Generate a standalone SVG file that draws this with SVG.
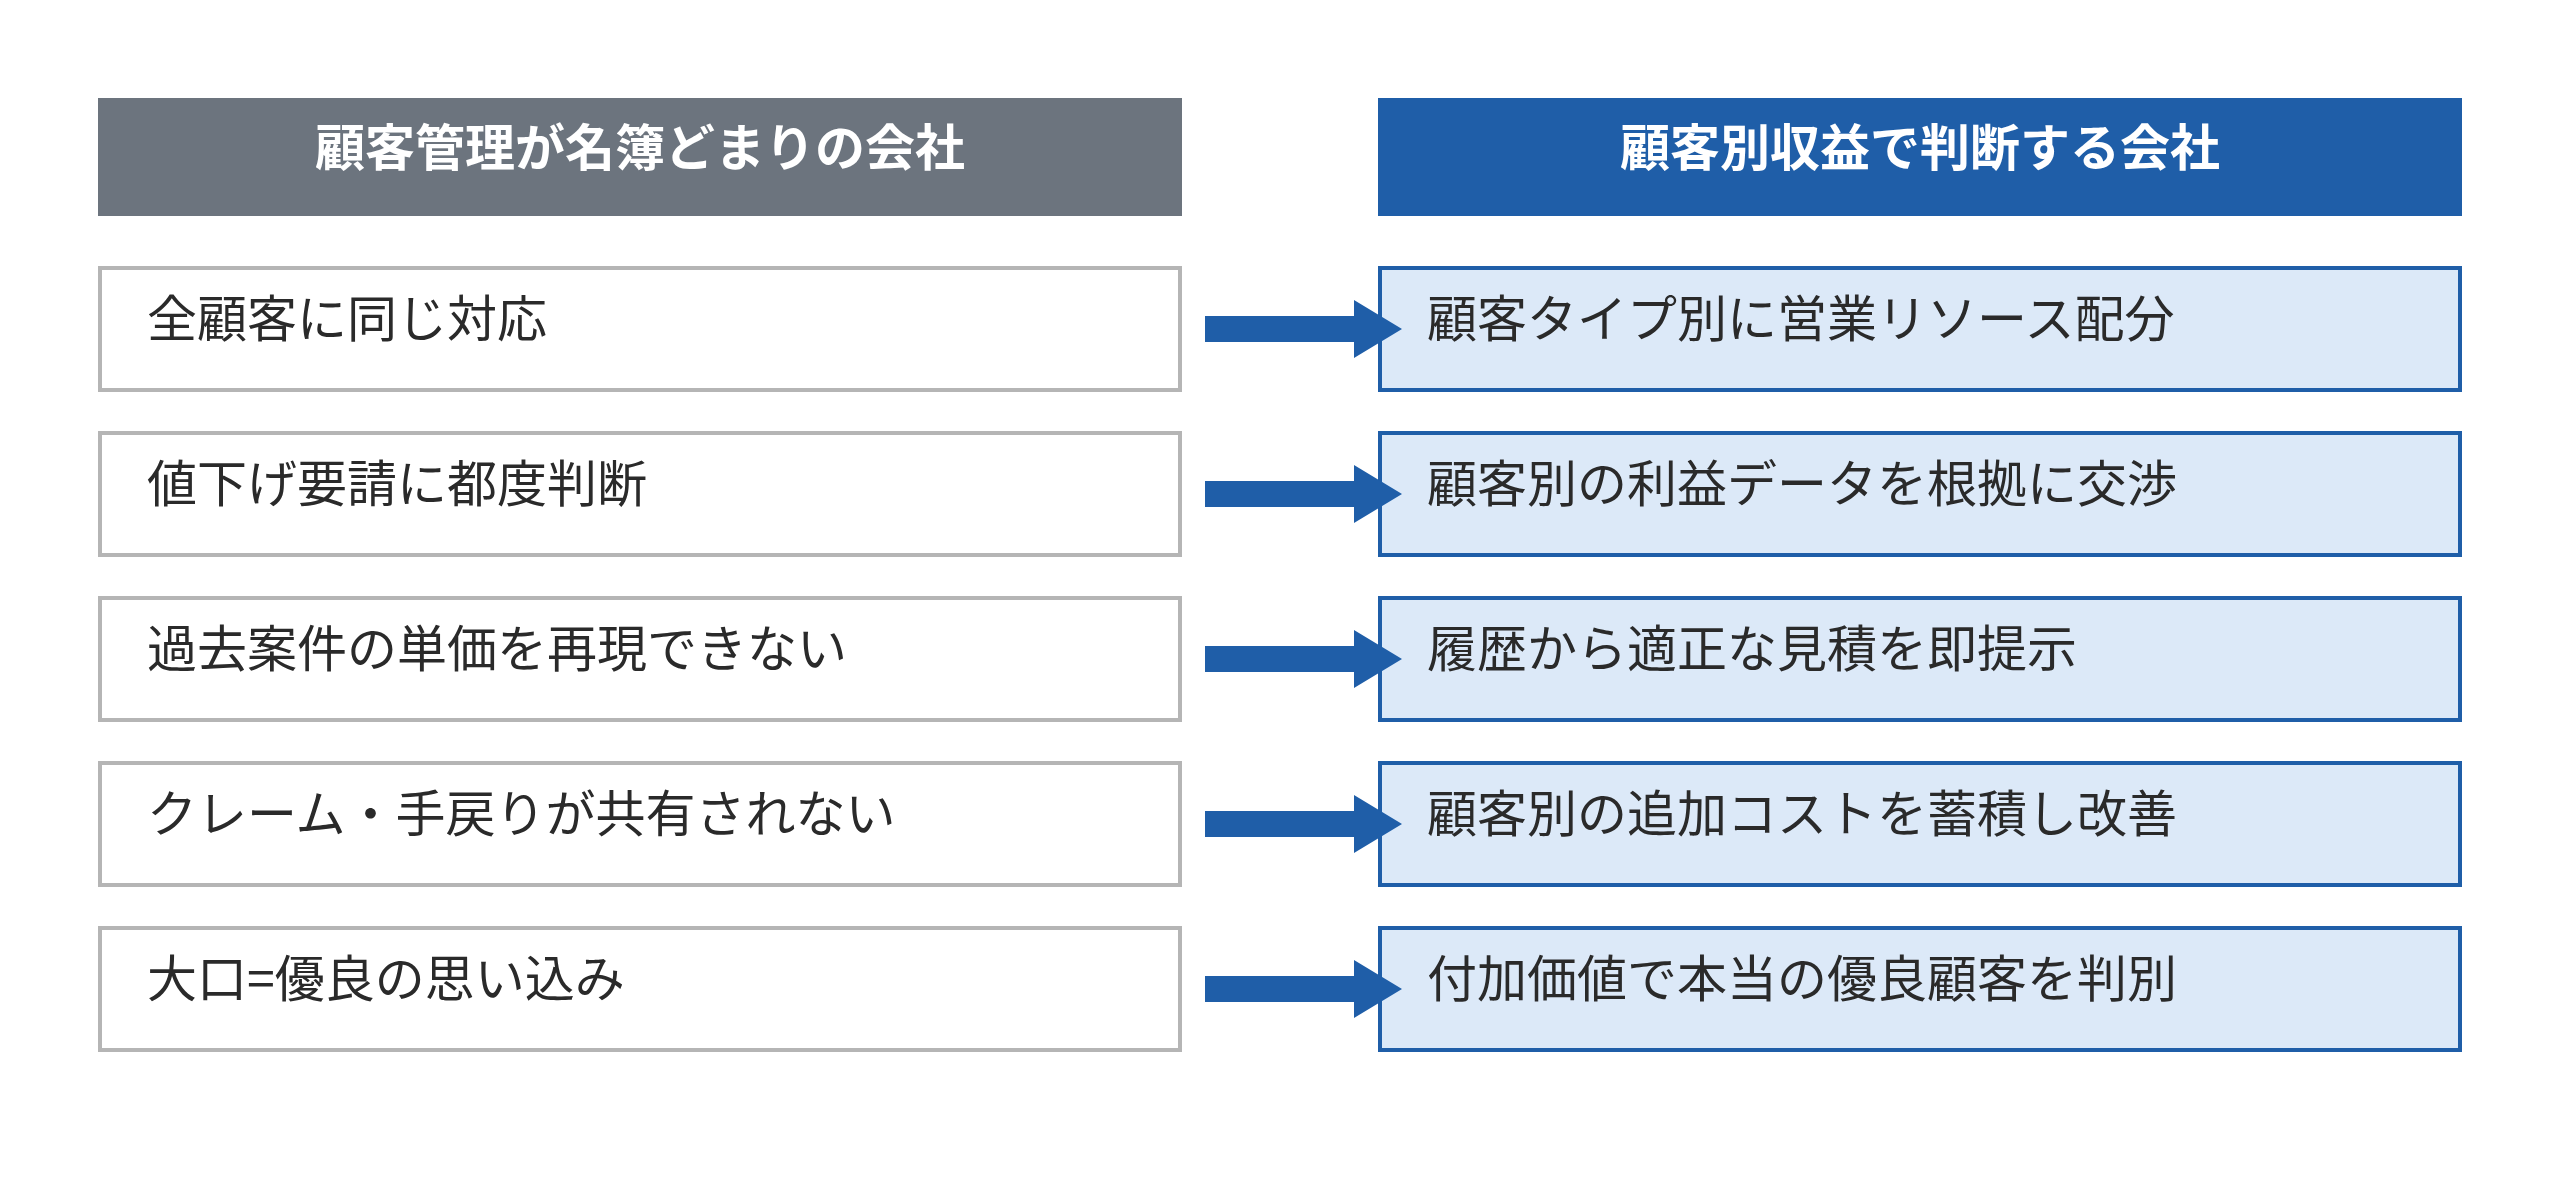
<svg xmlns="http://www.w3.org/2000/svg" width="2560" height="1191" viewBox="0 0 2560 1191">
<style>
text{font-family:"Noto Sans CJK JP","Noto Sans",sans-serif;font-size:50px}
.h{font-weight:bold;fill:#fff;text-anchor:middle}
.t{fill:#2a2a2a}
.l{fill:#fff;stroke:#b5b5b5;stroke-width:4}
.r{fill:#dce9f8;stroke:#1f5ea8;stroke-width:4}
.a{fill:#1f5ea8}
</style>
<rect width="2560" height="1191" fill="#fff"/>
<g id="header-left"><rect x="98" y="98" width="1084" height="118" fill="#6c747e"/><text class="h" x="640" y="166">顧客管理が名簿どまりの会社</text></g>
<g id="header-right"><rect x="1378" y="98" width="1084" height="118" fill="#1f5ea8"/><text class="h" x="1920" y="166">顧客別収益で判断する会社</text></g>
<g id="l1"><rect class="l" x="100" y="268" width="1080" height="122"/><text class="t" x="147" y="337">全顧客に同じ対応</text></g>
<g id="l2"><rect class="l" x="100" y="433" width="1080" height="122"/><text class="t" x="147" y="502">値下げ要請に都度判断</text></g>
<g id="l3"><rect class="l" x="100" y="598" width="1080" height="122"/><text class="t" x="147" y="667">過去案件の単価を再現できない</text></g>
<g id="l4"><rect class="l" x="100" y="763" width="1080" height="122"/><text class="t" x="147" y="832">クレーム・手戻りが共有されない</text></g>
<g id="l5"><rect class="l" x="100" y="928" width="1080" height="122"/><text class="t" x="147" y="997">大口=優良の思い込み</text></g>
<g id="r1"><rect class="r" x="1380" y="268" width="1080" height="122"/><text class="t" x="1427" y="337">顧客タイプ別に営業リソース配分</text></g>
<g id="r2"><rect class="r" x="1380" y="433" width="1080" height="122"/><text class="t" x="1427" y="502">顧客別の利益データを根拠に交渉</text></g>
<g id="r3"><rect class="r" x="1380" y="598" width="1080" height="122"/><text class="t" x="1427" y="667">履歴から適正な見積を即提示</text></g>
<g id="r4"><rect class="r" x="1380" y="763" width="1080" height="122"/><text class="t" x="1427" y="832">顧客別の追加コストを蓄積し改善</text></g>
<g id="r5"><rect class="r" x="1380" y="928" width="1080" height="122"/><text class="t" x="1427" y="997">付加価値で本当の優良顧客を判別</text></g>
<g id="connectors">
<polygon class="a" points="1205,316 1354,316 1354,300 1402,329 1354,358 1354,342 1205,342"/>
<polygon class="a" points="1205,481 1354,481 1354,465 1402,494 1354,523 1354,507 1205,507"/>
<polygon class="a" points="1205,646 1354,646 1354,630 1402,659 1354,688 1354,672 1205,672"/>
<polygon class="a" points="1205,811 1354,811 1354,795 1402,824 1354,853 1354,837 1205,837"/>
<polygon class="a" points="1205,976 1354,976 1354,960 1402,989 1354,1018 1354,1002 1205,1002"/>
</g>
</svg>
